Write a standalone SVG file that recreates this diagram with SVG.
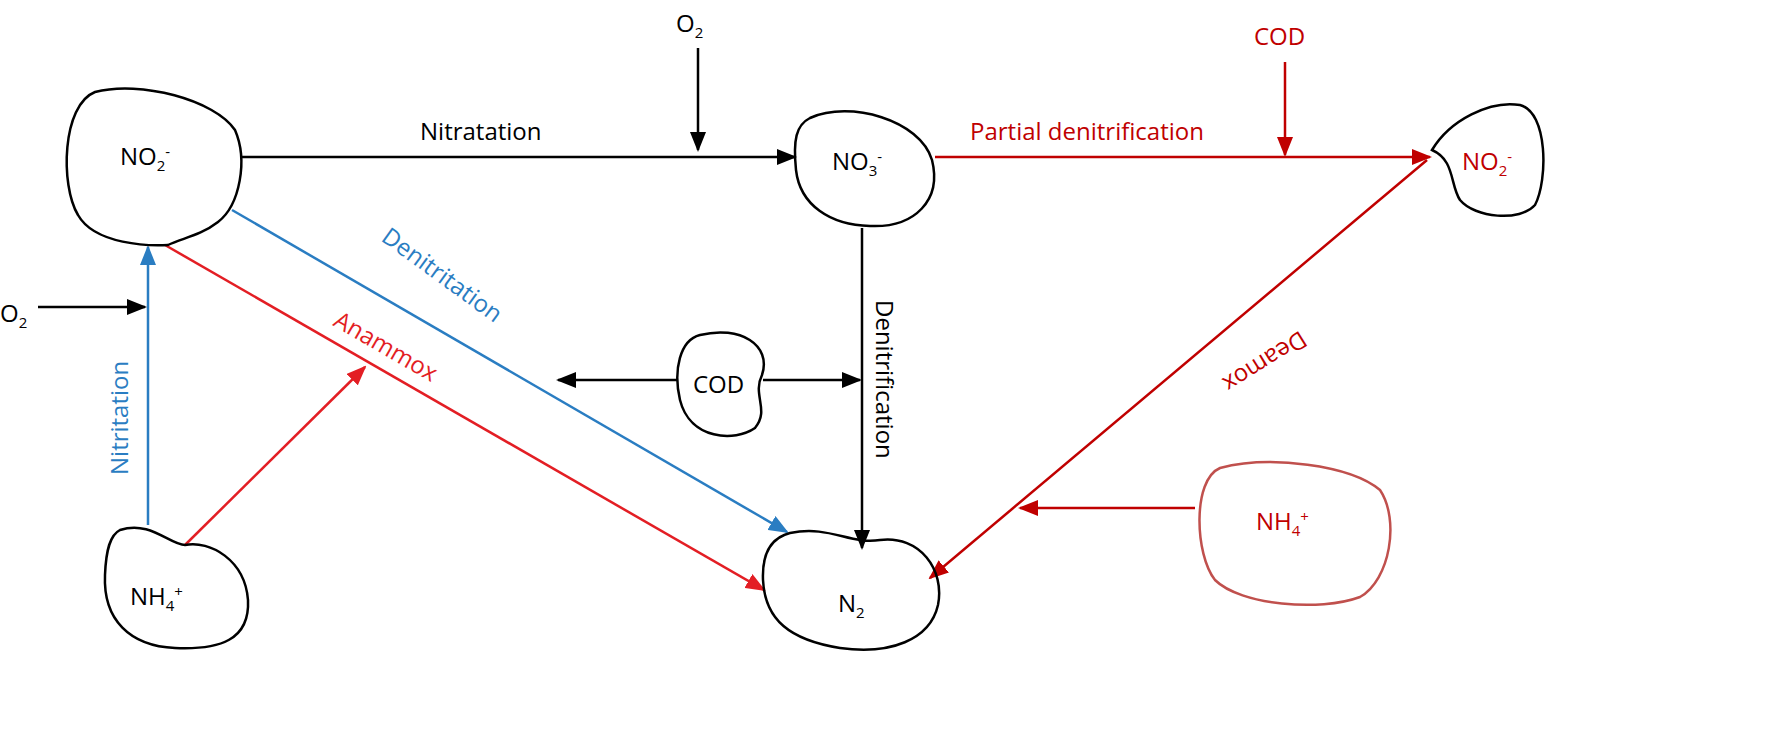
<svg xmlns="http://www.w3.org/2000/svg" width="1775" height="754" viewBox="0 0 1775 754">
<defs>
<style>
text{font-family:"Open Sans","Liberation Sans",sans-serif;font-size:24px}
.blob{fill:none;stroke:#000;stroke-width:2.5}
.ln{stroke-width:2.5;fill:none}
</style>
<marker id="ab" markerWidth="20" markerHeight="16" refX="18" refY="8" orient="auto" markerUnits="userSpaceOnUse"><path d="M0,0L20,8L0,16z" fill="#2a7dc2"/></marker>
<marker id="ar" markerWidth="20" markerHeight="16" refX="18" refY="8" orient="auto" markerUnits="userSpaceOnUse"><path d="M0,0L20,8L0,16z" fill="#e31e24"/></marker>
<marker id="ad" markerWidth="20" markerHeight="16" refX="18" refY="8" orient="auto" markerUnits="userSpaceOnUse"><path d="M0,0L20,8L0,16z" fill="#c00000"/></marker>
<marker id="ax" markerWidth="20" markerHeight="16" refX="18" refY="8" orient="auto" markerUnits="userSpaceOnUse"><path d="M0,0L20,8L0,16z" fill="#000"/></marker>
</defs>
<g id="connectors">
<line class="ln" stroke="#000" x1="240" y1="157" x2="795" y2="157" marker-end="url(#ax)"/>
<line class="ln" stroke="#000" x1="698" y1="48" x2="698" y2="150" marker-end="url(#ax)"/>
<line class="ln" stroke="#c00000" x1="935" y1="157" x2="1430" y2="157" marker-end="url(#ad)"/>
<line class="ln" stroke="#c00000" x1="1285" y1="62" x2="1285" y2="155" marker-end="url(#ad)"/>
<line class="ln" stroke="#000" x1="862" y1="228" x2="862" y2="548" marker-end="url(#ax)"/>
<line class="ln" stroke="#000" x1="678" y1="380" x2="558" y2="380" marker-end="url(#ax)"/>
<line class="ln" stroke="#000" x1="763" y1="380" x2="860" y2="380" marker-end="url(#ax)"/>
<line class="ln" stroke="#2a7dc2" x1="232" y1="210" x2="787" y2="532" marker-end="url(#ab)"/>
<line class="ln" stroke="#e31e24" x1="165" y1="245" x2="764" y2="590" marker-end="url(#ar)"/>
<line class="ln" stroke="#e31e24" x1="185" y1="545" x2="365" y2="367" marker-end="url(#ar)"/>
<line class="ln" stroke="#2a7dc2" x1="148" y1="525" x2="148" y2="247" marker-end="url(#ab)"/>
<line class="ln" stroke="#000" x1="38" y1="307" x2="145" y2="307" marker-end="url(#ax)"/>
<line class="ln" stroke="#c00000" x1="1427" y1="160" x2="930" y2="578" marker-end="url(#ad)"/>
<line class="ln" stroke="#c00000" x1="1195" y1="508" x2="1020" y2="508" marker-end="url(#ad)"/>
</g>
<g id="labels">
<text x="420" y="140">Nitratation</text>
<text x="970" y="140" fill="#c00000">Partial denitrification</text>
<text transform="translate(876,300) rotate(90)">Denitrification</text>
<text transform="translate(380,240) rotate(36)" fill="#2a7dc2">Denitritation</text>
<text transform="translate(332,325) rotate(30)" fill="#e31e24">Anammox</text>
<text transform="translate(128,475) rotate(-90)" fill="#2a7dc2">Nitritation</text>
<text transform="translate(1300,330) rotate(148)" fill="#c00000">Deamox</text>
<text x="676" y="32">O<tspan font-size="15" dy="6">2</tspan></text>
<text x="0" y="322">O<tspan font-size="15" dy="6">2</tspan></text>
<text x="1254" y="45" fill="#c00000">COD</text>
</g>
<g id="n-no2-left"><path class="blob" d="M95,92 C140,80 215,100 235,130 C248,160 240,205 218,222 C200,236 182,238 168,245 C150,246 95,245 78,215 C60,185 62,105 95,92Z"/><text x="120" y="165">NO<tspan font-size="15" dy="6">2</tspan><tspan font-size="15" dy="-14">-</tspan></text></g>
<g id="n-no3"><path class="blob" d="M810,118 C850,100 920,120 932,160 C942,200 915,228 870,226 C830,225 800,205 796,170 C793,140 796,125 810,118Z"/><text x="832" y="170">NO<tspan font-size="15" dy="6">3</tspan><tspan font-size="15" dy="-14">-</tspan></text></g>
<g id="n-no2-right"><path class="blob" d="M1432,150 C1450,120 1490,100 1520,105 C1548,112 1548,180 1535,205 C1520,222 1475,218 1460,200 C1450,185 1455,160 1432,150Z"/><text x="1462" y="170" fill="#c00000">NO<tspan font-size="15" dy="6">2</tspan><tspan font-size="15" dy="-14">-</tspan></text></g>
<g id="n-cod"><path class="blob" d="M700,335 C740,325 772,345 762,375 C752,395 770,410 755,428 C735,442 690,440 680,400 C673,370 680,340 700,335Z"/><text x="693" y="393">COD</text></g>
<g id="n-n2"><path class="blob" d="M790,533 C830,525 850,545 880,540 C920,535 945,570 938,605 C930,640 890,655 840,648 C790,640 765,620 763,580 C762,555 770,538 790,533Z"/><text x="838" y="612">N<tspan font-size="15" dy="6">2</tspan></text></g>
<g id="n-nh4-left"><path class="blob" d="M120,530 C150,520 170,545 185,545 C210,540 245,560 248,600 C250,640 220,650 175,648 C130,646 103,620 105,575 C106,550 110,535 120,530Z"/><text x="130" y="605">NH<tspan font-size="15" dy="6">4</tspan><tspan font-size="15" dy="-14">+</tspan></text></g>
<g id="n-nh4-right"><path d="M1220,468 C1270,455 1350,465 1380,490 C1400,520 1390,580 1360,597 C1320,612 1240,605 1215,580 C1195,555 1192,480 1220,468Z" fill="none" stroke="#c0504d" stroke-width="2.5"/><text x="1256" y="530" fill="#c00000">NH<tspan font-size="15" dy="6">4</tspan><tspan font-size="15" dy="-14">+</tspan></text></g>
</svg>
